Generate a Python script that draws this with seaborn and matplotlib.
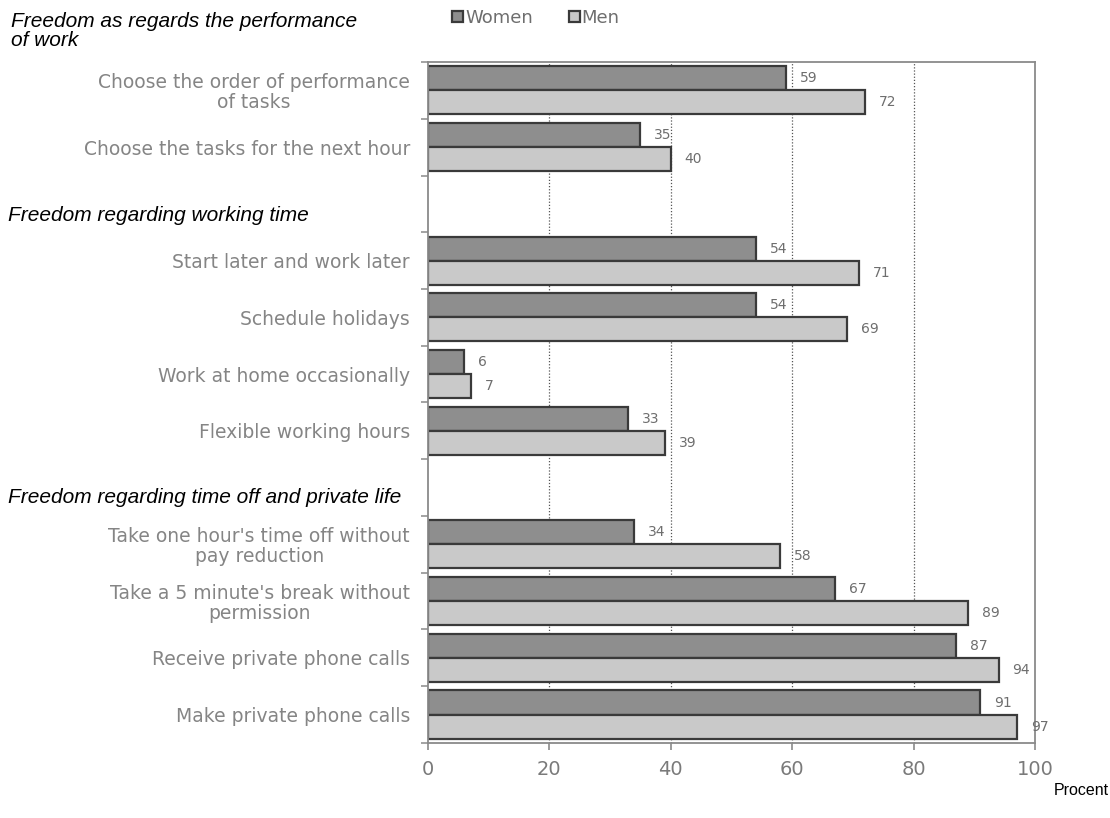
import matplotlib
matplotlib.use("Agg")
import matplotlib.pyplot as plt
import matplotlib.ticker as mticker
import numpy as np
import pandas as pd
import seaborn as sns

# Rows of the chart, top to bottom; blank entries leave a gap for a section heading
categories = [
    "Choose the order of performance\nof tasks",
    "Choose the tasks for the next hour",
    " ",
    "Start later and work later",
    "Schedule holidays",
    "Work at home occasionally",
    "Flexible working hours",
    "  ",
    "Take one hour's time off without\npay reduction",
    "Take a 5 minute's break without\npermission",
    "Receive private phone calls",
    "Make private phone calls",
]
women = [59, 35, None, 54, 54, 6, 33, None, 34, 67, 87, 91]
men = [72, 40, None, 71, 69, 7, 39, None, 58, 89, 94, 97]
sections = [
    "Freedom as regards the performance\nof work",
    "Freedom regarding working time",
    "Freedom regarding time off and private life",
]
x_ticks = [0, 20, 40, 60, 80, 100]

rows = []
for c, w, m in zip(categories, women, men):
    if w is not None:
        rows.append({"item": c, "sex": "Women", "pct": w})
        rows.append({"item": c, "sex": "Men", "pct": m})
df = pd.DataFrame(rows)

sns.set_theme(style="white")
plt.rcParams["font.family"] = ["DejaVu Sans"]

fig = plt.figure(figsize=(11.1, 8.18), dpi=100)
ax = fig.add_axes([0.3856, 0.0917, 0.5468, 0.8325])

palette = {"Women": "#8e8e8e", "Men": "#c9c9c9"}
sns.barplot(data=df, x="pct", y="item", hue="sex", order=categories,
            hue_order=["Women", "Men"], palette=palette, orient="h",
            width=0.85, edgecolor="#3a3a3a", linewidth=1.6, saturation=1,
            errorbar=None, ax=ax, legend=True)

ax.set_xlim(0, 100)
ax.set_ylim(len(categories) - 0.5, -0.5)
ax.set_xticks(x_ticks)
ax.set_xlabel("")
ax.set_ylabel("")

# Dotted vertical grid
for v in x_ticks[1:-1]:
    ax.axvline(v, color="#555555", linestyle=(0, (1, 1.5)), linewidth=0.9, zorder=0)

for s in ax.spines.values():
    s.set_color("#8a8a8a")
    s.set_linewidth(1.3)

ax.tick_params(axis="x", colors="#8a8a8a", labelcolor="#7a7a7a", labelsize=14,
               length=5, width=1.2, direction="out", bottom=True, pad=7)
ax.tick_params(axis="y", which="major", length=0, pad=13, labelcolor="#858585",
               labelsize=13.5)
ax.yaxis.set_minor_locator(mticker.FixedLocator(np.arange(-0.5, len(categories), 1.0)))
ax.tick_params(axis="y", which="minor", length=5, width=1.1, color="#8a8a8a", left=True)
for lab in ax.get_yticklabels():
    lab.set_multialignment("center")
    lab.set_linespacing(1.05)

# Value labels beside each bar
for cont, vals in zip(ax.containers, [women, men]):
    vv = [v for v in vals if v is not None]
    ax.bar_label(cont, labels=[str(v) for v in vv], padding=10, fontsize=10,
                 color="#6e6e6e")

# Legend above the plot
leg = ax.legend(loc="center left", bbox_to_anchor=(0.393, 0.978),
                bbox_transform=fig.transFigure, ncol=2, frameon=False,
                handlelength=0.6, handleheight=0.6, handletextpad=0.1,
                columnspacing=2.0, fontsize=13)
for t in leg.get_texts():
    t.set_color("#6e6e6e")

# Section headings
head_kw = dict(fontsize=15, style="italic", color="black", va="center",
               ha="left", family="Liberation Sans")
fig.text(0.010, 0.962, sections[0], linespacing=1.0, **head_kw)
fig.text(0.007, 0.736, sections[1], **head_kw)
fig.text(0.007, 0.392, sections[2], **head_kw)

fig.text(0.999, 0.034, "Procent", fontsize=11.5, color="black", ha="right",
         va="center", family="Liberation Sans")

fig.savefig("out.png", dpi=100)
